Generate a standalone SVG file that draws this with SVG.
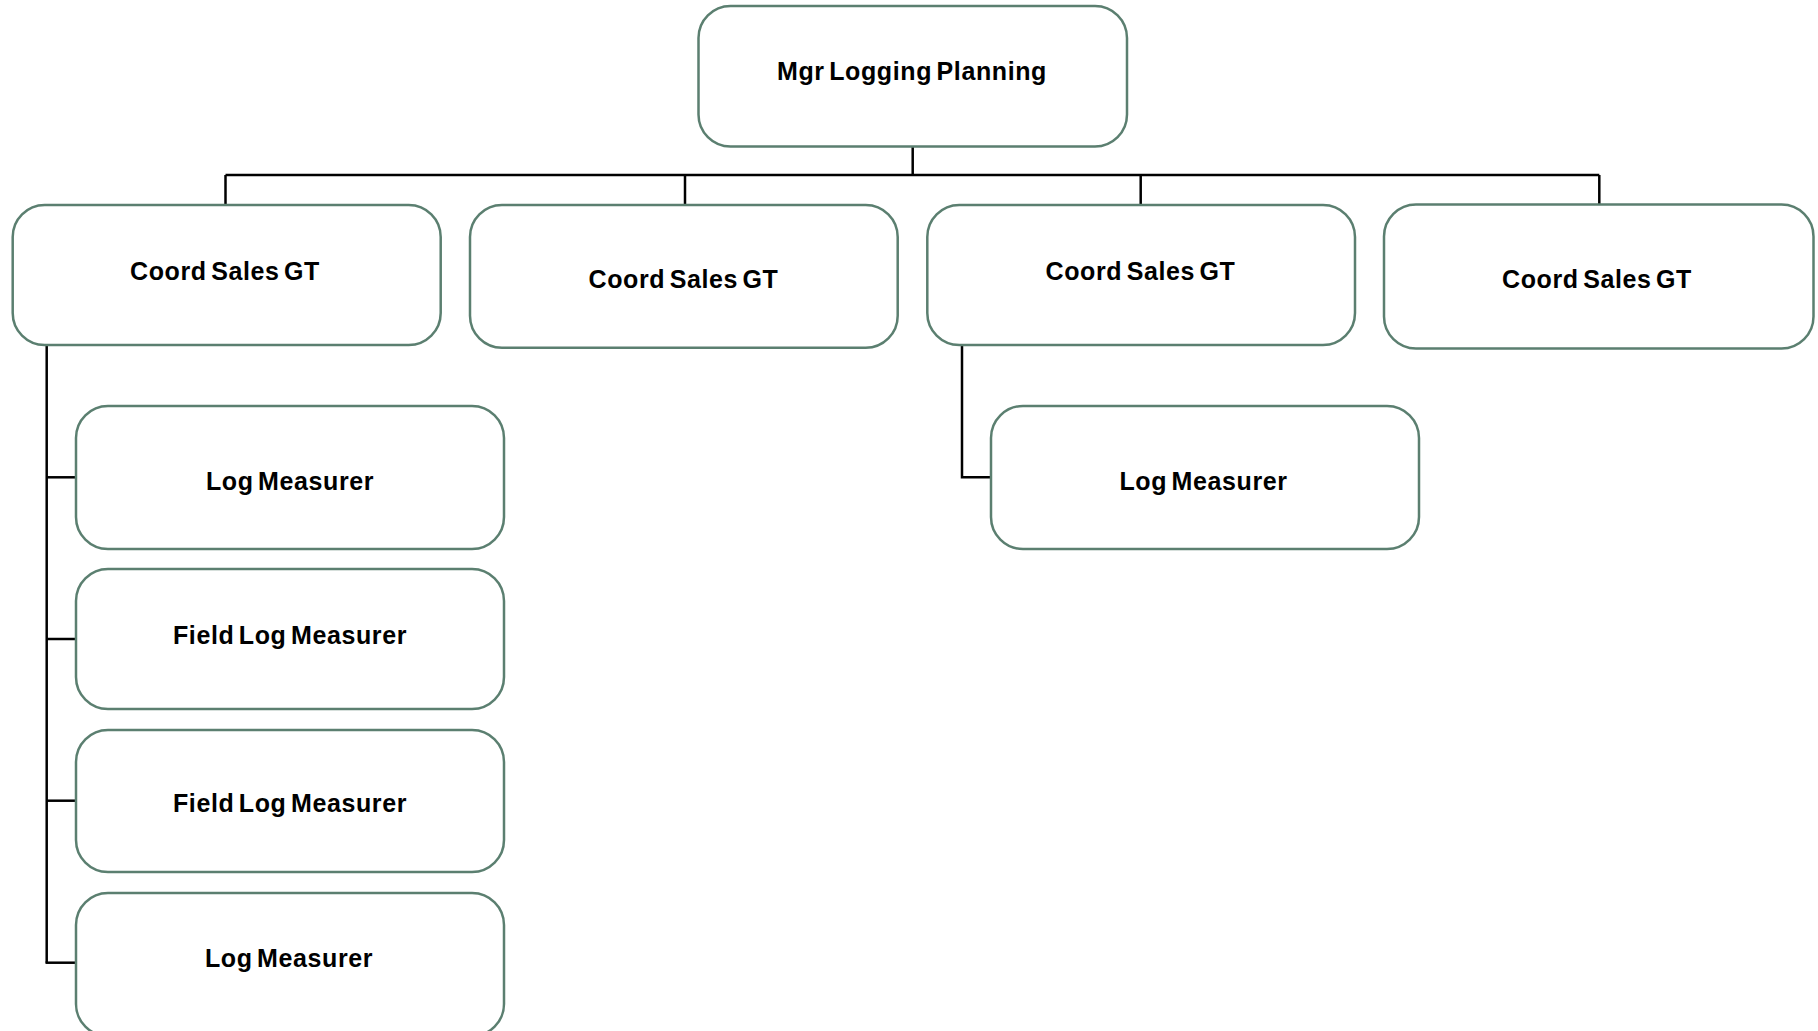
<svg xmlns="http://www.w3.org/2000/svg" width="1818" height="1031" viewBox="0 0 1818 1031">
<style>
.box{fill:#ffffff;stroke:#5b7f70;stroke-width:2.5}
.lbl{font-family:"Liberation Sans",Arial,sans-serif;font-weight:bold;font-size:25px;fill:#000000;text-anchor:middle;word-spacing:-3px;letter-spacing:0.6px}
.conn{fill:none;stroke:#000000;stroke-width:2.5}
</style>
<rect width="1818" height="1031" fill="#ffffff"/>
<g id="connectors">
<path class="conn" d="M912.7 146.5 V175"/>
<path class="conn" d="M225.5 175 H1599.3"/>
<path class="conn" d="M225.5 175 V205"/>
<path class="conn" d="M685 175 V205"/>
<path class="conn" d="M1140.7 175 V205"/>
<path class="conn" d="M1599.3 175 V204.5"/>
<path class="conn" d="M46.7 345 V962.7"/>
<path class="conn" d="M46.7 477.3 H76"/>
<path class="conn" d="M46.7 639 H76"/>
<path class="conn" d="M46.7 800.7 H76"/>
<path class="conn" d="M45.5 962.7 H76"/>
<path class="conn" d="M962 345 V477.3 H991"/>
</g>
<g id="node-mgr">
<rect class="box" x="698.5" y="6" width="428.5" height="140.5" rx="32" ry="32"/>
<text class="lbl" x="912" y="80">Mgr Logging Planning</text>
</g>
<g id="node-coord1">
<rect class="box" x="12.7" y="205" width="428" height="140" rx="32" ry="32"/>
<text class="lbl" x="225" y="280">Coord Sales GT</text>
</g>
<g id="node-coord2">
<rect class="box" x="470" y="205" width="427.7" height="142.7" rx="32" ry="32"/>
<text class="lbl" x="683.5" y="288.3">Coord Sales GT</text>
</g>
<g id="node-coord3">
<rect class="box" x="927.3" y="205" width="427.7" height="140" rx="32" ry="32"/>
<text class="lbl" x="1140.5" y="280">Coord Sales GT</text>
</g>
<g id="node-coord4">
<rect class="box" x="1384" y="204.5" width="429.5" height="144" rx="32" ry="32"/>
<text class="lbl" x="1597" y="288.3">Coord Sales GT</text>
</g>
<g id="node-logA">
<rect class="box" x="76" y="406" width="428" height="143" rx="32" ry="32"/>
<text class="lbl" x="290" y="490">Log Measurer</text>
</g>
<g id="node-fieldB">
<rect class="box" x="76" y="569" width="428" height="140" rx="32" ry="32"/>
<text class="lbl" x="290" y="644">Field Log Measurer</text>
</g>
<g id="node-fieldC">
<rect class="box" x="76" y="730" width="428" height="142" rx="32" ry="32"/>
<text class="lbl" x="290" y="811.7">Field Log Measurer</text>
</g>
<g id="node-logD">
<rect class="box" x="76" y="893" width="428" height="143" rx="32" ry="32"/>
<text class="lbl" x="289" y="966.7">Log Measurer</text>
</g>
<g id="node-logR">
<rect class="box" x="991" y="406" width="428" height="143" rx="32" ry="32"/>
<text class="lbl" x="1203.5" y="490">Log Measurer</text>
</g>
</svg>
